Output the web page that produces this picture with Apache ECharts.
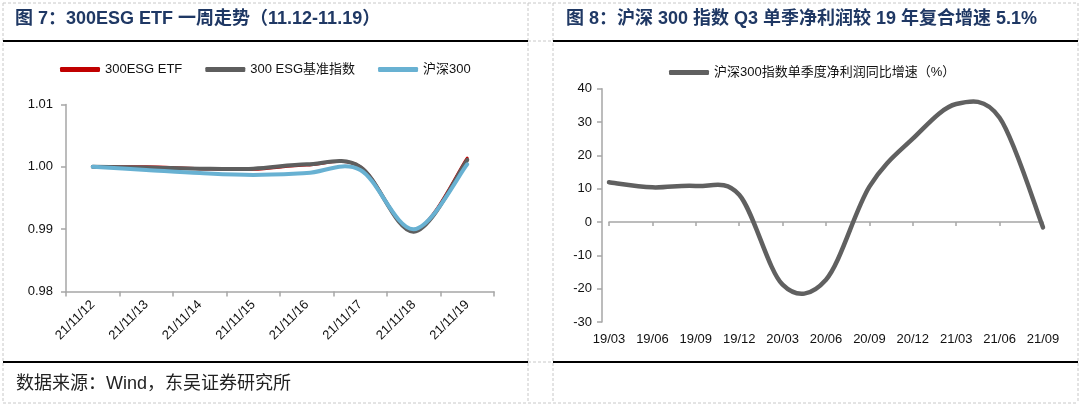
<!DOCTYPE html>
<html><head><meta charset="utf-8">
<script src="https://cdn.jsdelivr.net/npm/echarts@6/dist/echarts.min.js"></script>
<style>html,body{margin:0;padding:0;background:#fff}#c{width:1080px;height:406px}</style>
</head><body><div id="c"></div><script>
// ---- Figure 7 data ----
const dates = ['21/11/12','21/11/13','21/11/14','21/11/15','21/11/16','21/11/17','21/11/18','21/11/19'];
const etf   = [1.0000, 1.0000, 0.9997, 0.9996, 1.0003, 1.0000, 0.9898, 1.0014];
const bench = [1.0000, 0.9999, 0.9997, 0.9997, 1.0004, 1.0000, 0.9896, 1.0011];
const hs300 = [1.0000, 0.9995, 0.9990, 0.9987, 0.9990, 0.9995, 0.9900, 1.0004];
const leftNames = ['300ESG ETF', '300 ESG基准指数', '沪深300'];
// ---- Figure 8 data ----
const quarters = ['19/03','19/06','19/09','19/12','20/03','20/06','20/09','20/12','21/03','21/06','21/09'];
const profitGrowth = [11.9, 10.4, 10.8, 8.2, -18.8, -17.3, 10.6, 25.0, 35.4, 31.3, -1.6];
const rightName = '沪深300指数单季度净利润同比增速（%）';
const titles = ['图 7：300ESG ETF 一周走势（11.12-11.19）', '图 8：沪深 300 指数 Q3 单季净利润较 19 年复合增速 5.1%'];
const source = '数据来源：Wind，东吴证券研究所';

const FF = '"Liberation Sans", Arial, "Noto Sans CJK SC", sans-serif';
const axisGray = '#a6a6a6';
const chart = echarts.init(document.getElementById('c'), null, {renderer: 'canvas'});

function seg(x1, y1, x2, y2, style) {
  return {type: 'line', shape: {x1, y1, x2, y2}, style: Object.assign({}, style), silent: true};
}
const dash = {stroke: '#c8c8c8', lineWidth: 1, lineDash: [3, 2]};
const solid = {stroke: '#000', lineWidth: 2};

// Spreadsheet-style smoothed line (Catmull-Rom through every point), positioned by the axes via api.coord
function smoothSeries(name, values, xIdx, yIdx, color, width) {
  return {
    name, type: 'custom', xAxisIndex: xIdx, yAxisIndex: yIdx,
    data: values.map((v, i) => [i, v]), encode: {x: 0, y: 1},
    itemStyle: {color}, clip: false, silent: true,
    renderItem: function (params, api) {
      if (params.dataIndex !== 0) return null;
      const pts = values.map((v, i) => api.coord([i, v]));
      let d = 'M' + pts[0][0] + ',' + pts[0][1];
      for (let i = 0; i < pts.length - 1; i++) {
        const p0 = pts[i - 1] || pts[i], p1 = pts[i], p2 = pts[i + 1], p3 = pts[i + 2] || pts[i + 1];
        const c1x = p1[0] + (p2[0] - p0[0]) / 6, c1y = p1[1] + (p2[1] - p0[1]) / 6;
        const c2x = p2[0] - (p3[0] - p1[0]) / 6, c2y = p2[1] - (p3[1] - p1[1]) / 6;
        d += ' C' + c1x + ',' + c1y + ' ' + c2x + ',' + c2y + ' ' + p2[0] + ',' + p2[1];
      }
      return {type: 'path', shape: {pathData: d},
              style: {stroke: color, lineWidth: width, fill: null, lineCap: 'round', lineJoin: 'round'}};
    }
  };
}

chart.setOption({
  animation: false,
  backgroundColor: '#fff',
  textStyle: {fontFamily: FF},
  title: [
    {text: titles[0], left: 15, top: 10, padding: 0,
     textStyle: {fontSize: 18, fontWeight: 'bold', color: '#1f3864', fontFamily: FF}},
    {text: titles[1], left: 566, top: 10, padding: 0,
     textStyle: {fontSize: 18, fontWeight: 'bold', color: '#1f3864', fontFamily: FF}}
  ],
  legend: [
    {data: leftNames, left: 60, top: 63, padding: 0, icon: 'roundRect', itemWidth: 40, itemHeight: 5,
     itemGap: 23, textStyle: {fontSize: 13, color: '#111', fontFamily: FF}},
    {data: [rightName], left: 669, top: 66, padding: 0, icon: 'roundRect', itemWidth: 40, itemHeight: 5,
     textStyle: {fontSize: 13, color: '#111', fontFamily: FF}}
  ],
  grid: [
    {left: 66, top: 104.5, width: 428, height: 187, outerBoundsMode: 'none'},
    {left: 609, top: 88.7, width: 434, height: 233.3, outerBoundsMode: 'none'}
  ],
  xAxis: [
    {gridIndex: 0, type: 'category', data: dates, boundaryGap: true,
     axisLine: {lineStyle: {color: axisGray, width: 1.5}},
     axisTick: {show: true, length: 5, lineStyle: {color: axisGray, width: 1.5}},
     axisLabel: {rotate: 45, interval: 0, fontSize: 13, margin: 11, color: '#111', fontFamily: FF},
     splitLine: {show: false}},
    {gridIndex: 1, type: 'category', data: quarters, boundaryGap: false,
     axisLine: {show: false, onZero: false}, axisTick: {show: false},
     axisLabel: {interval: 0, fontSize: 13, margin: 11, color: '#111', fontFamily: FF},
     splitLine: {show: false}},
    {gridIndex: 1, type: 'category', data: quarters, boundaryGap: false, position: 'bottom',
     axisLine: {show: true, onZero: true, lineStyle: {color: axisGray, width: 1.5}},
     axisTick: {show: true, length: 4, lineStyle: {color: axisGray, width: 1.5}},
     axisLabel: {show: false}, splitLine: {show: false}}
  ],
  yAxis: [
    {gridIndex: 0, type: 'value', min: 0.98, max: 1.01, interval: 0.01,
     axisLine: {show: true, lineStyle: {color: axisGray, width: 1.5}},
     axisTick: {show: true, length: 5, lineStyle: {color: axisGray, width: 1.5}},
     axisLabel: {fontSize: 13, margin: 13, color: '#111', fontFamily: FF, formatter: v => v.toFixed(2)},
     splitLine: {show: false}},
    {gridIndex: 1, type: 'value', min: -30, max: 40, interval: 10, offset: 7,
     axisLine: {show: true, lineStyle: {color: axisGray, width: 1.5}},
     axisTick: {show: true, length: 5, lineStyle: {color: axisGray, width: 1.5}},
     axisLabel: {fontSize: 13, margin: 10, color: '#111', fontFamily: FF},
     splitLine: {show: false}}
  ],
  series: [
    smoothSeries(leftNames[0], etf, 0, 0, '#c00000', 3),
    smoothSeries(leftNames[1], bench, 0, 0, '#5e5e5e', 4),
    smoothSeries(leftNames[2], hs300, 0, 0, '#68b1d2', 4),
    smoothSeries(rightName, profitGrowth, 2, 1, '#606060', 4.5)
  ],
  graphic: [
    seg(3, 3, 1078, 3, dash), seg(3, 403, 1078, 403, dash),
    seg(3, 3, 3, 403, dash), seg(1078, 3, 1078, 403, dash),
    seg(528, 3, 528, 403, dash), seg(553, 3, 553, 403, dash),
    seg(528, 41, 553, 41, dash), seg(528, 362, 553, 362, dash),
    seg(3, 41, 528, 41, solid), seg(553, 41, 1078, 41, solid),
    seg(3, 362, 528, 362, solid), seg(553, 362, 1078, 362, solid),
    {type: 'text', left: 16, top: 375, silent: true,
     style: {text: source, fontSize: 18, fill: '#222', fontFamily: FF}}
  ]
});
</script></body></html>
